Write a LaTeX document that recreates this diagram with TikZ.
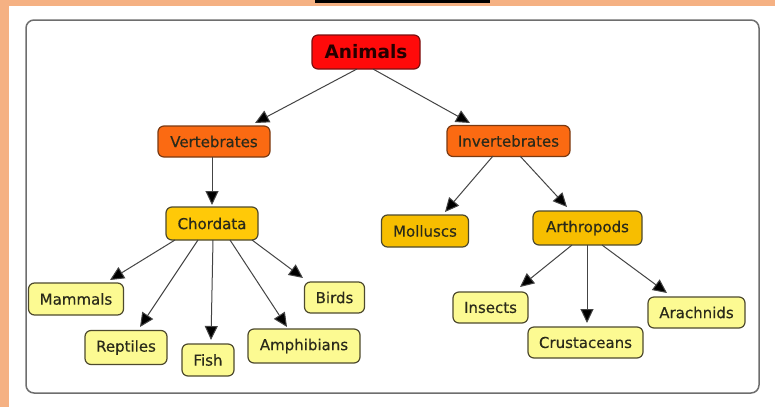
\documentclass[tikz,border=0pt]{standalone}
\usepackage{fontspec}
\setmainfont{DejaVu Sans}
\newfontfamily\nodefont[FakeBold=0.4]{DejaVu Sans}
\usetikzlibrary{arrows.meta,calc}
\definecolor{bgorange}{HTML}{F5B183}
\definecolor{panelgray}{HTML}{6E6E6E}
\definecolor{topred}{HTML}{FF0A0A}
\definecolor{topborder}{HTML}{7A1010}
\definecolor{midorange}{HTML}{FB6A12}
\definecolor{midborder}{HTML}{7A3A12}
\definecolor{gold}{HTML}{FFC908}
\definecolor{gold2}{HTML}{F7BE00}
\definecolor{leafyellow}{HTML}{FCFA92}
\definecolor{leafborder}{HTML}{4E4A2E}
\definecolor{txt}{HTML}{2A2A1A}
\definecolor{arrowgray}{HTML}{444444}
\tikzset{
  concept/.style={draw, rounded corners=6pt, line width=1.2pt, inner sep=0pt,
    text=txt, font=\nodefont\fontsize{15}{17}\selectfont, align=center},
  rootbox/.style={concept, fill=topred, draw=topborder, text=black!85!red,
    font=\fontsize{18.5}{22}\selectfont\bfseries},
  midbox/.style={concept, fill=midorange, draw=midborder},
  goldbox/.style={concept, fill=gold, draw=leafborder},
  gold2box/.style={concept, fill=gold2, draw=leafborder},
  leafbox/.style={concept, fill=leafyellow, draw=leafborder},
  arr/.style={draw=arrowgray, line width=1pt, -{Triangle[length=14pt,width=13pt,fill=black]}}
}
\begin{document}
\begin{tikzpicture}[x=1pt,y=-1pt]
\useasboundingbox (0,0) rectangle (775,407);
% background
\fill[bgorange] (0,0) rectangle (775,407);
\fill[white] (9,6) rectangle (775,407);
\fill[black] (315,0) rectangle (490,3);
\draw[panelgray, line width=1.5pt, rounded corners=8pt] (26,20) rectangle (759,393);
% nodes
\node[rootbox, minimum width=108pt, minimum height=34pt] (anim) at (366,52) {Animals};
\node[midbox, minimum width=112pt, minimum height=31pt] (vert) at (214,141.5) {Vertebrates};
\node[midbox, minimum width=123pt, minimum height=31pt] (invert) at (508.5,141) {Invertebrates};
\node[goldbox, minimum width=92pt, minimum height=33pt] (chord) at (212,223.5) {Chordata};
\node[gold2box, minimum width=87pt, minimum height=32pt] (moll) at (425,231) {Molluscs};
\node[gold2box, minimum width=109pt, minimum height=34pt] (arth) at (587.5,228) {Arthropods};
\node[leafbox, minimum width=95pt, minimum height=32pt] (mamm) at (76,299) {Mammals};
\node[leafbox, minimum width=82pt, minimum height=34pt] (rept) at (126,347.5) {Reptiles};
\node[leafbox, minimum width=52pt, minimum height=32pt] (fish) at (208,360) {Fish};
\node[leafbox, minimum width=112pt, minimum height=34pt] (amph) at (304,346) {Amphibians};
\node[leafbox, minimum width=60pt, minimum height=31pt] (bird) at (334.5,297.5) {Birds};
\node[leafbox, minimum width=75pt, minimum height=31pt] (insc) at (490.5,307.5) {Insects};
\node[leafbox, minimum width=115pt, minimum height=31pt] (crus) at (585.5,342.5) {Crustaceans};
\node[leafbox, minimum width=97pt, minimum height=31pt] (arac) at (696.5,312.5) {Arachnids};
% connectors
\draw[arr] ($(anim)+(-9,17)$) -- ($(vert)+(41,-18.5)$);
\draw[arr] ($(anim)+(7,17)$) -- ($(invert)+(-38.5,-18)$);
\draw[arr] ($(vert)+(-2,15.5)$) -- ($(chord)+(0,-18.5)$);
\draw[arr] ($(invert)+(-15.5,15)$) -- ($(moll)+(20,-19)$);
\draw[arr] ($(invert)+(11.5,15)$) -- ($(arth)+(-20.5,-21)$);
\draw[arr] ($(chord)+(-37,16.5)$) -- ($(mamm)+(34,-19)$);
\draw[arr] ($(chord)+(-14,16.5)$) -- ($(rept)+(14,-20.5)$);
\draw[arr] ($(chord)+(1,16.5)$) -- ($(fish)+(3,-20)$);
\draw[arr] ($(chord)+(18,16.5)$) -- ($(amph)+(-17,-19)$);
\draw[arr] ($(chord)+(40,16.5)$) -- ($(bird)+(-31.5,-19.5)$);
\draw[arr] ($(arth)+(-15.5,17)$) -- ($(insc)+(29.5,-20.5)$);
\draw[arr] ($(arth)+(-0.5,17)$) -- ($(crus)+(1.5,-19.5)$);
\draw[arr] ($(arth)+(14.5,17)$) -- ($(arac)+(-29.5,-19.5)$);
\end{tikzpicture}
\end{document}
